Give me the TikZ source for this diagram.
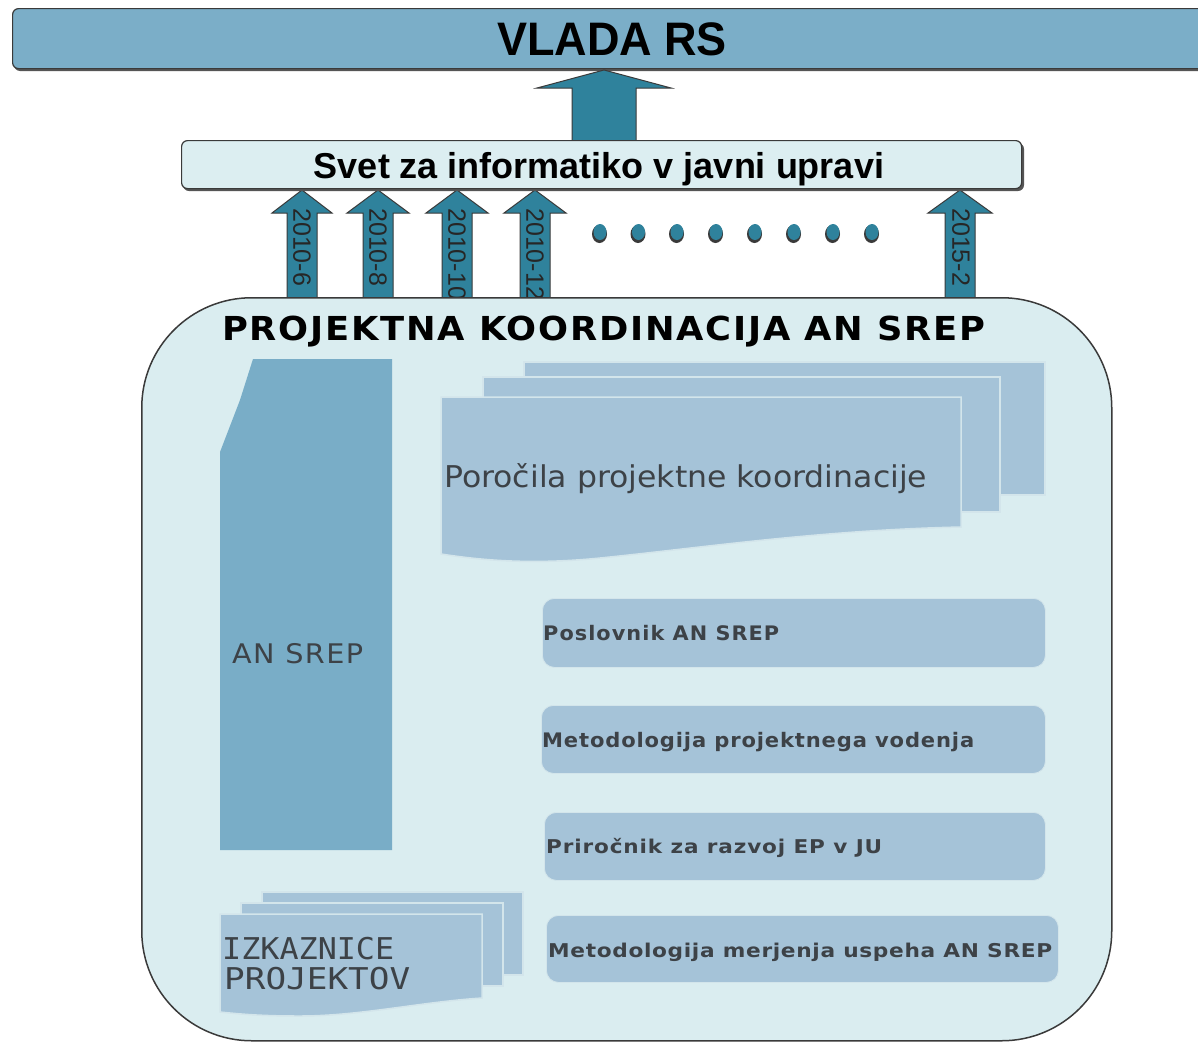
\documentclass[tikz,border=0pt]{standalone}
\usepackage{fontspec}
\setmainfont{DejaVu Sans}
\newfontfamily\arialf{Liberation Sans}
\newfontfamily\dejaf{DejaVu Sans}
\newfontfamily\monof{DejaVu Sans Mono}
\usetikzlibrary{calc}
\definecolor{barblue}{HTML}{7BAEC8}
\definecolor{arrteal}{HTML}{2F829C}
\definecolor{palebox}{HTML}{DCEEF1}
\definecolor{contfill}{HTML}{DAEDF0}
\definecolor{srepblue}{HTML}{79ADC7}
\definecolor{docblue}{HTML}{A5C3D8}
\definecolor{docedge}{HTML}{D3E5EB}
\definecolor{txtgray}{HTML}{3D4247}
\definecolor{edgegray}{HTML}{3A3A3A}
\definecolor{shadowgray}{HTML}{555555}
\newcommand{\fitw}[2]{\resizebox{#1pt}{\height}{#2}}
\newcommand{\blockup}[6]{%
  \draw[arrowsty] (#1-#4,#2) -- (#1-#4,#3+#6) -- (#1-#5,#3+#6) -- (#1,#3) --
    (#1+#5,#3+#6) -- (#1+#4,#3+#6) -- (#1+#4,#2) -- cycle;}
\begin{document}
\begin{tikzpicture}[x=1pt,y=-1pt,
  arrowsty/.style={fill=arrteal,draw=edgegray,line width=1pt,line join=miter},
  docsty/.style={fill=docblue,draw=docedge,line width=1.5pt},
  itembox/.style={fill=docblue,draw=docedge,line width=0.8pt,rounded corners=12pt,anchor=north west,inner sep=0pt},
  itemtext/.style={anchor=base west,inner sep=0pt,text=txtgray},
  datelabel/.style={rotate=-90,anchor=west,inner sep=0pt,font=\arialf\fontsize{25}{25}\selectfont,text=black!85}]
\useasboundingbox (0,0) rectangle (1198,1044);
\fill[white] (0,0) rectangle (1198,1044);

% top bar
\fill[shadowgray,rounded corners=6pt] (14,11) rectangle (1220,71);
\node[draw=edgegray,fill=barblue,line width=1.2pt,rounded corners=6pt,minimum width=1206pt,minimum height=60pt,anchor=north west,inner sep=0pt] (vlada) at (12,8) {};
\node[anchor=base,inner sep=0pt] (vladat) at (612,55) {\fitw{230}{\arialf\bfseries\fontsize{47}{47}\selectfont VLADA RS}};

% big arrow
\blockup{604}{141}{70}{32}{67}{18}

% small arrows
\blockup{302}{300}{190}{15}{30}{23}
\blockup{378}{300}{190}{15}{31}{23}
\blockup{457}{300}{190}{15}{31}{23}
\blockup{535}{300}{190}{15}{31}{23}
\blockup{960}{300}{190}{15}{32}{23}
\node[datelabel] (d1) at (302,208) {2010-6};
\node[datelabel] (d2) at (378,208) {2010-8};
\node[datelabel] (d3) at (457,208) {2010-10};
\node[datelabel] (d4) at (535,208) {2010-12};
\node[datelabel] (d5) at (961,208) {2015-2};

% dots
\foreach \dx in {600,638.5,677,716,755,794,833,872}{
  \fill[edgegray] (\dx-0.5,234) ellipse (7.5 and 9);
  \fill[arrteal] (\dx,232) ellipse (6.5 and 8);
}

% Svet box
\fill[shadowgray,rounded corners=6pt] (183,143) rectangle (1024,191);
\node[draw=edgegray,fill=palebox,line width=1.2pt,rounded corners=6pt,minimum width=840pt,minimum height=48pt,anchor=north west,inner sep=0pt] (svet) at (181,140) {};
\node[anchor=base,inner sep=0pt] (svett) at (599,178) {\fitw{570}{\arialf\bfseries\fontsize{36}{36}\selectfont Svet za informatiko v javni upravi}};

% container
\node[draw=edgegray,fill=contfill,line width=1.5pt,rounded corners=110pt,minimum width=970pt,minimum height=743pt,anchor=north west,inner sep=0pt] (cont) at (141,297) {};
\node[anchor=base west,inner sep=0pt] (contt) at (222,340) {\fitw{763}{\dejaf\bfseries\fontsize{33}{33}\selectfont\addfontfeature{LetterSpace=5}PROJEKTNA KOORDINACIJA AN SREP}};

% AN SREP shape
\fill[srepblue] (253,359) -- (392,359) -- (392,850) -- (220,850) -- (220,452) -- (240,400) -- cycle;
\node[itemtext] (srept) at (232,663) {\fitw{131}{\dejaf\fontsize{27}{27}\selectfont\addfontfeature{LetterSpace=5}AN SREP}};

% reports stack
\draw[docsty] (524,362) rectangle (1045,495);
\draw[docsty] (483,377) rectangle (1000,512);
\draw[docsty] (441,397) -- (961,397) -- (961,527) .. controls (820,530) and (700,548) .. (600,558) .. controls (530,565) and (480,560) .. (441,554) -- cycle;
\node[itemtext] (rept) at (444,487) {\fitw{483}{\dejaf\fontsize{30}{30}\selectfont Poročila projektne koordinacije}};

% item boxes
\node[itembox,minimum width=503pt,minimum height=69pt] (b1) at (542,598) {};
\node[itembox,minimum width=504pt,minimum height=68pt] (b2) at (541,705) {};
\node[itembox,minimum width=501pt,minimum height=68pt] (b3) at (544,812) {};
\node[itembox,minimum width=512pt,minimum height=67pt] (b4) at (546,915) {};
\node[itemtext] (b1t) at (543,640) {\fitw{236}{\dejaf\bfseries\fontsize{20}{20}\selectfont\addfontfeature{LetterSpace=5}Poslovnik AN SREP}};
\node[itemtext] (b2t) at (542,747) {\fitw{432}{\dejaf\bfseries\fontsize{20}{20}\selectfont\addfontfeature{LetterSpace=4}Metodologija projektnega vodenja}};
\node[itemtext] (b3t) at (546,853) {\fitw{336}{\dejaf\bfseries\fontsize{19}{19}\selectfont\addfontfeature{LetterSpace=4}Priročnik za razvoj EP v JU}};
\node[itemtext] (b4t) at (548,957) {\fitw{504}{\dejaf\bfseries\fontsize{19}{19}\selectfont\addfontfeature{LetterSpace=3}Metodologija merjenja uspeha AN SREP}};

% izkaznice stack
\draw[docsty] (262,892) rectangle (523,975);
\draw[docsty] (241,903) rectangle (503,986);
\draw[docsty] (220,914) -- (482,914) -- (482,998) .. controls (420,1002) and (360,1016) .. (300,1016) .. controls (260,1016) and (240,1014) .. (220,1012) -- cycle;
\node[itemtext] (iz1) at (222,959) {\fitw{172}{\monof\fontsize{30}{30}\selectfont IZKAZNICE}};
\node[itemtext] (iz2) at (224,989) {\fitw{186}{\monof\fontsize{30}{30}\selectfont PROJEKTOV}};
\end{tikzpicture}
\end{document}
